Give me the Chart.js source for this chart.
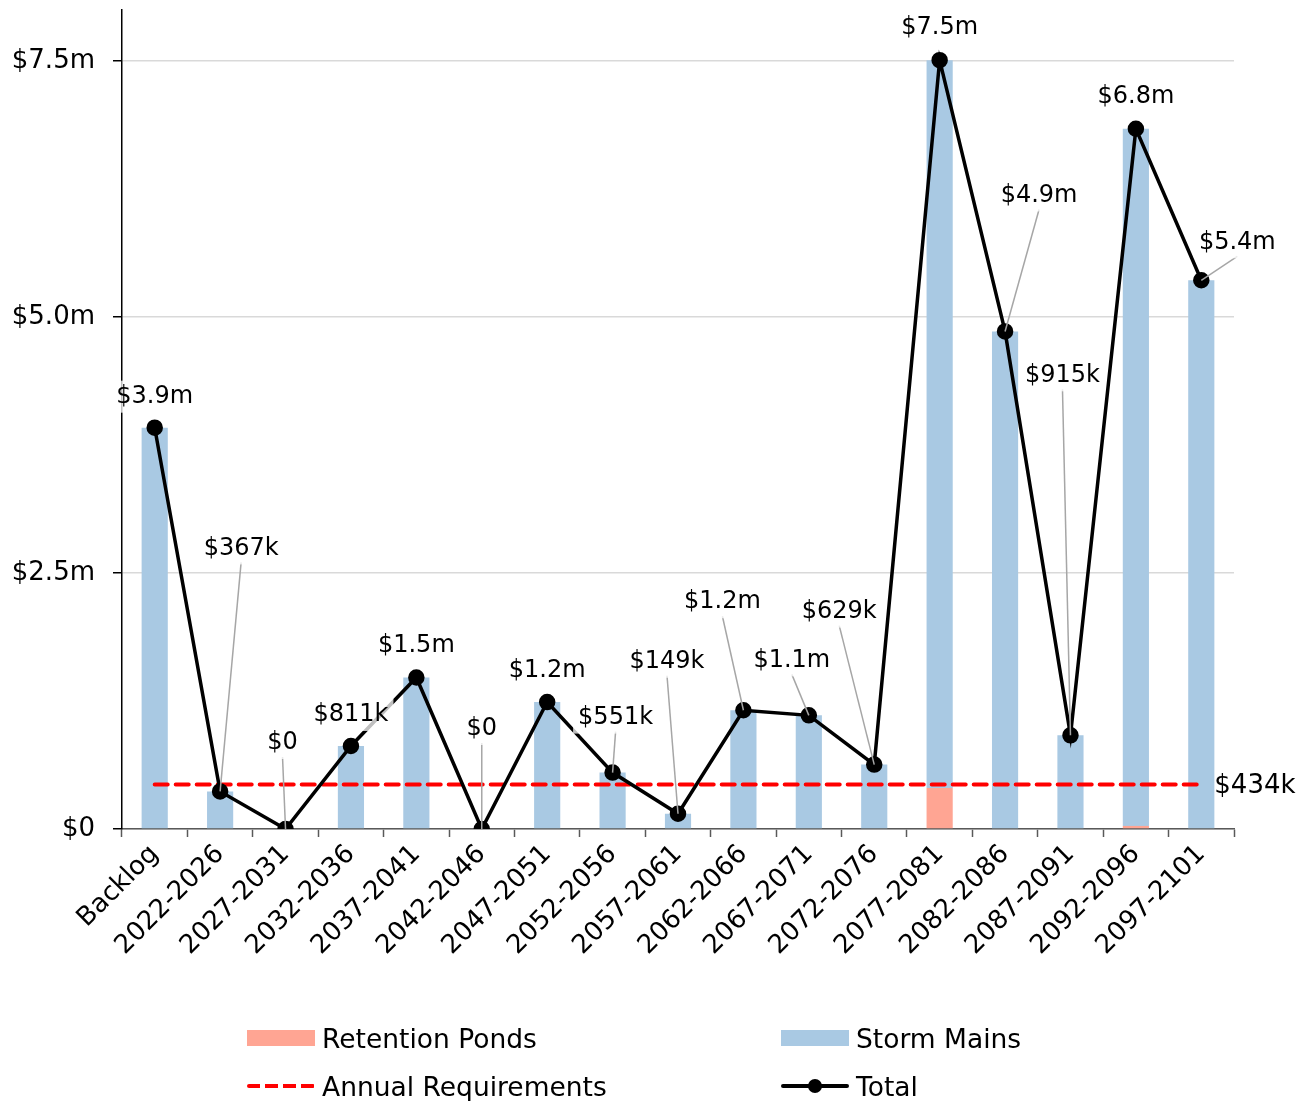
<!DOCTYPE html>
<html>
<head>
<meta charset="utf-8">
<title>Storm Infrastructure Renewal</title>
<script src="https://cdn.jsdelivr.net/npm/chart.js@4.4.0/dist/chart.umd.min.js"></script>
<style>
    body { margin: 0; background: #fff; font-family: "DejaVu Sans", Verdana, sans-serif; }
    #wrap { position: relative; width: 1316px; height: 1101px; }
    #legend {
        position: absolute; left: 247px; top: 1014px;
        display: grid; grid-template-columns: 534px auto; grid-auto-rows: 48px;
        font-size: 26.5px; color: #000;
    }
    .item { display: flex; align-items: center; }
    .swatch { width: 68px; height: 16px; margin-right: 7px; position: relative; }
    .swatch .ln { position: absolute; left: 0; right: 0; top: 6px; height: 4px; border-radius: 2px; }
    .swatch .dot { position: absolute; left: 27px; top: 1px; width: 14px; height: 14px; border-radius: 50%; background: #000; }
</style>
</head>
<body>
<div id="wrap">
    <canvas id="chart" width="1316" height="1101"></canvas>
    <div id="legend"></div>
</div>
<script>
const periods = ['Backlog', '2022-2026', '2027-2031', '2032-2036', '2037-2041', '2042-2046',
    '2047-2051', '2052-2056', '2057-2061', '2062-2066', '2067-2071', '2072-2076',
    '2077-2081', '2082-2086', '2087-2091', '2092-2096', '2097-2101'];

const retentionPonds = [0, 0, 0, 0, 0, 0, 0, 0, 0, 0, 0, 0, 400000, 0, 0, 30000, 0];
const stormMains = [3920000, 367000, 0, 811000, 1480000, 0, 1240000, 551000, 149000,
    1160000, 1110000, 629000, 7110000, 4860000, 915000, 6810000, 5360000];
const totals = [3920000, 367000, 0, 811000, 1480000, 0, 1240000, 551000, 149000,
    1160000, 1110000, 629000, 7510000, 4860000, 915000, 6840000, 5360000];
const annualRequirement = 434000;

const yTicks = [0, 2500000, 5000000, 7500000];

// where each total label sits, relative to its point (dx, dy in px)
const labelOffsets = [[0, -31], [21, -243], [-3, -86], [0, -31], [0, -32], [0, -100],
    [0, -31], [3, -55], [-11, -152], [-21, -108], [-17, -55], [-35, -153],
    [0, -32], [34, -136], [-8, -360], [0, -32], [36, -38]];

const font = '"DejaVu Sans", Verdana, sans-serif';

function money(v) {
    if (v === 0) return '$0';
    if (v >= 1000000) return '$' + (v / 1000000).toFixed(1) + 'm';
    return '$' + Math.round(v / 1000) + 'k';
}

const totalLabels = {
    id: 'totalLabels',
    afterDatasetsDraw(chart) {
        const ctx = chart.ctx;
        const pts = chart.getDatasetMeta(3).data;
        ctx.save();
        ctx.font = '24px ' + font;
        ctx.textAlign = 'center';
        ctx.textBaseline = 'middle';
        pts.forEach((p, i) => {
            const [dx, dy] = labelOffsets[i];
            const lx = p.x + dx, ly = p.y + dy;
            const text = money(totals[i]);
            const w = ctx.measureText(text).width + 10;
            if (Math.hypot(dx, dy) > 40) {
                ctx.strokeStyle = '#a6a6a6';
                ctx.lineWidth = 1.5;
                ctx.beginPath();
                ctx.moveTo(lx, ly + 14);
                ctx.lineTo(p.x, p.y);
                ctx.stroke();
            }
            ctx.fillStyle = 'rgba(255,255,255,0.75)';
            ctx.fillRect(lx - w / 2, ly - 16, w, 32);
            ctx.fillStyle = '#000';
            ctx.fillText(text, lx, ly);
        });

        // requirement value at the end of the dashed line
        const req = chart.getDatasetMeta(2).data;
        const last = req[req.length - 1];
        ctx.textAlign = 'left';
        ctx.font = '26px ' + font;
        ctx.fillText(money(annualRequirement), last.x + 13, last.y + 2);
        ctx.restore();
    }
};

const chart = new Chart(document.getElementById('chart'), {
    type: 'bar',
    data: {
        labels: periods,
        datasets: [
            {
                label: 'Retention Ponds',
                data: retentionPonds,
                backgroundColor: '#ffa593',
                stack: 'assets',
                barPercentage: 0.4,
                categoryPercentage: 1,
                order: 3
            },
            {
                label: 'Storm Mains',
                data: stormMains,
                backgroundColor: '#a9c9e3',
                stack: 'assets',
                barPercentage: 0.4,
                categoryPercentage: 1,
                order: 3
            },
            {
                type: 'line',
                label: 'Annual Requirements',
                data: periods.map(() => annualRequirement),
                borderColor: '#ff0000',
                borderWidth: 4,
                borderDash: [13, 8],
                borderCapStyle: 'round',
                pointRadius: 0,
                stack: 'req',
                order: 1
            },
            {
                type: 'line',
                label: 'Total',
                data: totals,
                borderColor: '#000',
                backgroundColor: '#000',
                borderWidth: 3.5,
                pointRadius: 6.5,
                pointBackgroundColor: '#000',
                stack: 'total',
                order: 0
            }
        ]
    },
    options: {
        responsive: false,
        devicePixelRatio: 1,
        animation: false,
        layout: { padding: { top: 10, right: 82, left: 0, bottom: 0 } },
        plugins: {
            legend: { display: false },
            tooltip: { enabled: false }
        },
        scales: {
            x: {
                stacked: true,
                afterFit: s => { s.height = 272; s.paddingLeft = 0; s.paddingRight = 0; },
                grid: { drawOnChartArea: false, offset: true, tickLength: 8, tickColor: '#595959', tickWidth: 1.5 },
                border: { color: '#595959', width: 1.5 },
                ticks: {
                    color: '#000',
                    font: { family: font, size: 26 },
                    maxRotation: 45,
                    minRotation: 45,
                    autoSkip: false,
                    padding: 2
                }
            },
            y: {
                stacked: true,
                min: 0,
                max: 8000000,
                afterFit: s => { s.width = 122; s.paddingTop = 0; s.paddingBottom = 0; },
                afterBuildTicks: s => { s.ticks = yTicks.map(v => ({ value: v })); },
                grid: { color: '#d9d9d9', lineWidth: 1.5, tickLength: 9, tickColor: '#000' },
                border: { color: '#000', width: 1.5 },
                ticks: {
                    color: '#000',
                    font: { family: font, size: 26 },
                    padding: 18,
                    callback: v => money(v)
                }
            }
        }
    },
    plugins: [totalLabels]
});

// legend in two columns, built from the datasets
const legend = document.getElementById('legend');
chart.data.datasets.forEach(ds => {
    const item = document.createElement('div');
    item.className = 'item';
    const sw = document.createElement('span');
    sw.className = 'swatch';
    if (ds.type === 'line') {
        const ln = document.createElement('span');
        ln.className = 'ln';
        ln.style.background = ds.borderDash
            ? `repeating-linear-gradient(to right, ${ds.borderColor} 0 13px, transparent 13px 18px)`
            : ds.borderColor;
        sw.appendChild(ln);
        if (ds.pointRadius) {
            const dot = document.createElement('span');
            dot.className = 'dot';
            sw.appendChild(dot);
        }
    } else {
        sw.style.background = ds.backgroundColor;
    }
    item.appendChild(sw);
    item.appendChild(document.createTextNode(ds.label));
    legend.appendChild(item);
});
</script>
</body>
</html>
